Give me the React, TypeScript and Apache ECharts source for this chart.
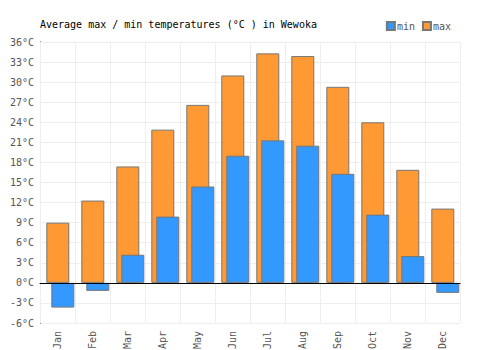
import React, { useEffect, useRef } from "react";
import * as echarts from "echarts";

const months = ["Jan", "Feb", "Mar", "Apr", "May", "Jun", "Jul", "Aug", "Sep", "Oct", "Nov", "Dec"];
const minTemps = [-3.7, -1.2, 4.2, 9.9, 14.4, 19.0, 21.3, 20.5, 16.3, 10.2, 4.0, -1.5];
const maxTemps = [9.0, 12.3, 17.4, 22.9, 26.6, 31.0, 34.3, 33.9, 29.3, 24.0, 16.9, 11.1];
const spacer = months.map(() => "-");

const FONT = "DejaVu Sans Mono";

export default function App() {
  const ref = useRef<HTMLDivElement>(null);
  useEffect(() => {
    if (!ref.current) return;
    const chart = echarts.init(ref.current, undefined, { renderer: "svg" });
    const gap = "-78.26%";
    chart.setOption({
      animation: false,
      title: {
        text: "Average max / min temperatures (°C ) in Wewoka",
        left: 35,
        top: 14,
        textStyle: { fontFamily: FONT, fontSize: 10, fontWeight: "normal", color: "#000" },
      },
      legend: {
        data: ["min", "max"],
        right: 44,
        top: 16,
        icon: "rect",
        itemWidth: 8,
        itemHeight: 8,
        itemGap: 7,
        textStyle: { fontFamily: FONT, fontSize: 10, color: "#555", padding: [0, 0, 0, -3] },
      },
      grid: { left: 40, right: 40, top: 42, bottom: 27, outerBoundsMode: "none", containLabel: false },
      xAxis: {
        type: "category",
        data: months,
        axisLine: { show: true, onZero: true, lineStyle: { color: "#000", width: 1 } },
        axisTick: { show: false },
        splitLine: { show: true, lineStyle: { color: "#eee", width: 1 } },
        axisLabel: { rotate: 90, fontFamily: FONT, fontSize: 10, color: "#555", margin: 8, interval: 0 },
        z: 10,
      },
      yAxis: {
        type: "value",
        min: -6,
        max: 36,
        interval: 3,
        axisLine: { show: true, lineStyle: { color: "#000", width: 1 } },
        axisTick: { show: false },
        splitLine: { show: true, lineStyle: { color: "#eee", width: 1 } },
        axisLabel: { formatter: "{value}°C", fontFamily: FONT, fontSize: 10, color: "#555", margin: 6 },
      },
      series: [
        {
          name: "spacer",
          type: "bar",
          data: spacer,
          barWidth: 25.8,
          barGap: gap,
          itemStyle: { opacity: 0 },
          silent: true,
        },
        {
          name: "max",
          type: "bar",
          data: maxTemps,
          barWidth: 23,
          barGap: gap,
          itemStyle: { color: "#ff9933", borderColor: "#777", borderWidth: 1 },
        },
        {
          name: "min",
          type: "bar",
          data: minTemps,
          barWidth: 23,
          barGap: gap,
          itemStyle: { color: "#3399ff", borderColor: "#777", borderWidth: 1 },
        },
      ],
    });
    return () => chart.dispose();
  }, []);
  return (
    <div
      ref={ref}
      style={{ position: "absolute", left: 0, top: 0, width: 500, height: 350 }}
    />
  );
}
